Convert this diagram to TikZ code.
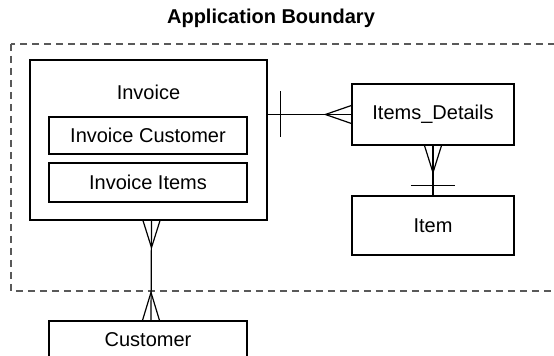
\documentclass[tikz,border=0pt]{standalone}
\usepackage{fontspec}
\setmainfont{Liberation Sans}

\begin{document}
\begin{tikzpicture}[x=0.5pt, y=-0.5pt, line width=0.6pt,
        every node/.append style={font=\fontsize{10}{12}\selectfont}]
      \tikzstyle{entity} = [draw, rectangle, inner sep=0pt]
      \tikzstyle{boundary} = [draw=black!65, dash pattern=on 3.5pt off 2.5pt]
      \clip (0,0) rectangle (554,356);
      \draw[boundary] (11,44) rectangle (570,291);
      \node (title) at (271,18) {\bfseries Application Boundary};
      % entities
      \node (invoice) [entity, minimum width=118.5pt, minimum height=80pt] at (148.5,140) {};
      \node (invname) at (148.5,92) {Invoice};
      \node (invcust) [entity, minimum width=99pt, minimum height=18.5pt] at (148,135.5) {Invoice Customer};
      \node (invitems) [entity, minimum width=99pt, minimum height=19.5pt] at (148,182.5) {Invoice Items};
      \node (details) [entity, minimum width=81pt, minimum height=30.5pt] at (433,114.5) {Items\_Details};
      \node (item) [entity, minimum width=81pt, minimum height=29.5pt] at (433,225.5) {Item};
      \node (customer) [entity, minimum width=99pt, minimum height=19pt] at (148,340) {Customer};
      % invoice -- items_details
      \coordinate (invR) at (invoice.east |- details.west);
      \draw (invR) -- (details.west);
      \draw ([xshift=6.5pt,yshift=11.5pt]invR) -- ([xshift=6.5pt,yshift=-11.5pt]invR);
      \draw ([yshift=4.5pt]details.west) -- ([xshift=-13pt]details.west) -- ([yshift=-4.5pt]details.west);
      % items_details -- item
      \draw (details.south) -- (item.north);
      \draw ([xshift=-4.25pt]details.south) -- ([yshift=-13.5pt]details.south) -- ([xshift=4.25pt]details.south);
      \draw ([xshift=-11pt,yshift=5pt]item.north) -- ([xshift=11pt,yshift=5pt]item.north);
      % invoice -- customer
      \coordinate (invB) at ([xshift=1.5pt]invoice.south);
      \coordinate (custT) at ([xshift=1.5pt]customer.north);
      \draw (invB) -- (custT);
      \draw ([xshift=-4.25pt]invB) -- ([yshift=-13.5pt]invB) -- ([xshift=4.25pt]invB);
      \draw ([xshift=-4.25pt]custT) -- ([yshift=14pt]custT) -- ([xshift=4.25pt]custT);
\end{tikzpicture}
\end{document}
